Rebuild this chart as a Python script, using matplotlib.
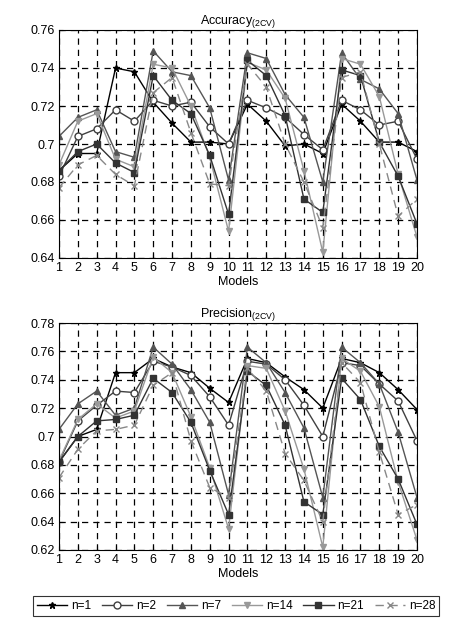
import matplotlib
matplotlib.use("Agg")
import matplotlib.pyplot as plt

models = list(range(1, 21))
labels = ["n=1", "n=2", "n=7", "n=14", "n=21", "n=28"]
acc = [
 [0.686,0.695,0.695,0.740,0.738,0.722,0.711,0.701,0.701,0.700,0.721,0.712,0.699,0.700,0.695,0.721,0.712,0.701,0.701,0.696],
 [0.683,0.704,0.708,0.718,0.712,0.723,0.720,0.722,0.709,0.700,0.723,0.719,0.714,0.705,0.697,0.723,0.718,0.710,0.712,0.692],
 [0.704,0.714,0.718,0.696,0.693,0.749,0.738,0.736,0.719,0.681,0.748,0.745,0.726,0.714,0.680,0.748,0.734,0.729,0.716,0.681],
 [0.689,0.712,0.716,0.692,0.688,0.742,0.740,0.720,0.693,0.654,0.743,0.739,0.724,0.686,0.643,0.745,0.742,0.725,0.684,0.651],
 [0.686,0.696,0.700,0.690,0.685,0.736,0.723,0.716,0.694,0.663,0.744,0.736,0.715,0.671,0.664,0.739,0.736,0.701,0.683,0.658],
 [0.677,0.689,0.694,0.684,0.678,0.727,0.735,0.706,0.679,0.678,0.742,0.730,0.700,0.680,0.656,0.735,0.738,0.700,0.662,0.671],
]
prec = [
 [0.682,0.700,0.705,0.745,0.745,0.755,0.749,0.745,0.734,0.724,0.755,0.752,0.742,0.733,0.720,0.755,0.752,0.745,0.733,0.719],
 [0.682,0.711,0.722,0.732,0.731,0.753,0.749,0.743,0.728,0.708,0.753,0.751,0.740,0.722,0.700,0.752,0.750,0.737,0.725,0.697],
 [0.705,0.723,0.732,0.715,0.720,0.763,0.751,0.733,0.710,0.659,0.763,0.752,0.731,0.706,0.657,0.763,0.752,0.737,0.703,0.657],
 [0.683,0.712,0.723,0.713,0.718,0.756,0.745,0.714,0.678,0.635,0.750,0.748,0.718,0.677,0.622,0.755,0.746,0.721,0.668,0.627],
 [0.682,0.700,0.711,0.712,0.715,0.741,0.731,0.710,0.676,0.645,0.746,0.736,0.708,0.654,0.645,0.741,0.726,0.693,0.670,0.638],
 [0.671,0.691,0.704,0.705,0.708,0.736,0.745,0.697,0.664,0.657,0.748,0.732,0.688,0.669,0.640,0.752,0.738,0.689,0.645,0.652],
]
styles = [
 dict(color="black", marker="*", mfc="black", ls="-", ms=5),
 dict(color="#404040", marker="o", mfc="white", ls="-", ms=5),
 dict(color="#555555", marker="^", mfc="#555555", ls="-", ms=5),
 dict(color="#999999", marker="v", mfc="#999999", ls="-", ms=5),
 dict(color="#333333", marker="s", mfc="#333333", ls="-", ms=5),
 dict(color="#888888", marker="x", mfc="#888888", ls=(0, (6, 4)), ms=4),
]

plt.rcParams['font.family'] = ['Liberation Sans', 'DejaVu Sans']
fig = plt.figure(figsize=(4.72, 6.24), dpi=100)
ax1 = fig.add_axes([59/472, 1-258/624, 358/472, 228/624])
ax2 = fig.add_axes([59/472, 1-550/624, 358/472, 227/624])

def draw(ax, data, title, ylim, yticks, yl):
    for d, lab, st in zip(data, labels, styles):
        ax.plot(models, d, label=lab, lw=1, **st)
    ax.set_xlim(1, 20)
    ax.set_ylim(*ylim)
    ax.set_xticks(models)
    ax.set_yticks(yticks)
    ax.set_yticklabels(yl)
    ax.grid(True, color="black", ls=(0, (5, 4)), lw=0.9)
    ax.tick_params(labelsize=9, length=3, direction="in", pad=3)
    ax.set_title(title, fontsize=9, pad=3)
    ax.set_xlabel("Models", fontsize=9, labelpad=1)

draw(ax1, acc, "Accuracy$_{\\mathregular{(2CV)}}$", (0.64, 0.76),
     [0.64,0.66,0.68,0.70,0.72,0.74,0.76], ["0.64","0.66","0.68","0.7","0.72","0.74","0.76"])
draw(ax2, prec, "Precision$_{\\mathregular{(2CV)}}$", (0.62, 0.78),
     [0.62,0.64,0.66,0.68,0.70,0.72,0.74,0.76,0.78], ["0.62","0.64","0.66","0.68","0.7","0.72","0.74","0.76","0.78"])

h, l = ax1.get_legend_handles_labels()
leg = fig.legend(h, l, loc="center", bbox_to_anchor=(0.5, 1-606/624), ncol=6, fontsize=8.5,
                 frameon=True, fancybox=False, edgecolor="black", handlelength=2.6,
                 columnspacing=0.9, handletextpad=0.3, borderpad=0.3)
leg.get_frame().set_linewidth(0.8)
fig.savefig("out.png", dpi=100)
